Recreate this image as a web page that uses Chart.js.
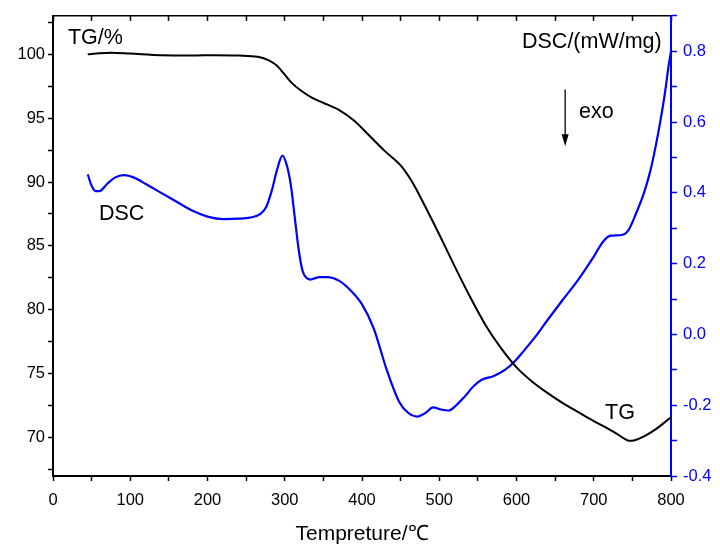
<!DOCTYPE html>
<html><head><meta charset="utf-8">
<script src="https://cdn.jsdelivr.net/npm/chart.js@4/dist/chart.umd.min.js"></script>
<style>html,body{margin:0;padding:0;background:#fff;} canvas{display:block;}</style>
</head><body>
<canvas id="c" width="720" height="547"></canvas>
<script>
// ---- data ----
const tgTemp  = [45, 60, 75, 100, 140, 180, 210, 240, 265, 280, 290, 300, 310, 320, 335, 350, 370, 390, 410, 430, 450, 465, 480, 500, 520, 540, 560, 580, 600, 620, 640, 660, 680, 700, 720, 730, 740, 746, 752, 765, 780, 800];
const tgValue = [100.0, 100.08, 100.12, 100.05, 99.92, 99.9, 99.93, 99.9, 99.8, 99.5, 99.1, 98.4, 97.7, 97.2, 96.6, 96.2, 95.65, 94.8, 93.6, 92.4, 91.3, 90.0, 88.3, 85.9, 83.4, 81.0, 78.8, 77.0, 75.5, 74.4, 73.5, 72.7, 72.0, 71.3, 70.65, 70.3, 69.9, 69.75, 69.78, 70.1, 70.65, 71.6];

const dscTemp  = [45, 50, 55, 60, 70, 80, 92, 105, 120, 140, 160, 180, 200, 220, 240, 255, 268, 276, 283, 290, 297, 303, 308, 313, 318, 323, 328, 333, 345, 355, 370, 385, 400, 415, 432, 448, 460, 472, 482, 492, 502, 512, 522, 532, 545, 555, 570, 585, 596, 610, 625, 640, 660, 680, 700, 712, 722, 736, 745, 755, 765, 773, 780, 786, 792, 797, 800];
const dscValue = [0.452, 0.42, 0.405, 0.405, 0.425, 0.443, 0.450, 0.443, 0.425, 0.400, 0.375, 0.350, 0.333, 0.326, 0.327, 0.330, 0.340, 0.36, 0.405, 0.465, 0.505, 0.475, 0.42, 0.33, 0.24, 0.18, 0.16, 0.155, 0.162, 0.162, 0.152, 0.125, 0.085, 0.018, -0.10, -0.19, -0.222, -0.232, -0.222, -0.206, -0.212, -0.215, -0.200, -0.178, -0.145, -0.128, -0.118, -0.100, -0.08, -0.045, -0.005, 0.040, 0.098, 0.155, 0.22, 0.262, 0.279, 0.281, 0.295, 0.343, 0.40, 0.46, 0.53, 0.60, 0.68, 0.76, 0.80];

const xTitle = 'Tempreture/\u2103';
const textNotes = [
  {text: 'TG/%',        x: 19.4,  v: 101.25, axis: 'y',  align: 'left'},
  {text: 'DSC',         x: 59.5,  v: 0.339,  axis: 'y1', align: 'left'},
  {text: 'DSC/(mW/mg)', x: 788,   v: 0.827,  axis: 'y1', align: 'right'},
  {text: 'exo',         x: 681,   v: 0.627,  axis: 'y1', align: 'left'},
  {text: 'TG',          x: 714.6, v: 71.92,  axis: 'y',  align: 'left'}
];
const exoArrow = {x: 663, from: 0.692, to: 0.532};

// ---- chart ----
const FONT = '"Liberation Sans", Arial, Helvetica, sans-serif';
const tickFont = {family: FONT, size: 16.5};

const notesPlugin = {
  id: 'notes',
  afterDatasetsDraw(chart) {
    const ctx = chart.ctx;
    const sx = chart.scales.x;
    ctx.save();
    ctx.font = '21.5px ' + FONT;
    ctx.fillStyle = '#000';
    ctx.textBaseline = 'middle';
    textNotes.forEach(n => {
      ctx.textAlign = n.align;
      ctx.fillText(n.text, sx.getPixelForValue(n.x), chart.scales[n.axis].getPixelForValue(n.v));
    });
    // exo arrow
    const ax = sx.getPixelForValue(exoArrow.x);
    const y0 = chart.scales.y1.getPixelForValue(exoArrow.from);
    const y1 = chart.scales.y1.getPixelForValue(exoArrow.to);
    ctx.strokeStyle = '#000';
    ctx.lineWidth = 1.3;
    ctx.beginPath();
    ctx.moveTo(ax, y0);
    ctx.lineTo(ax, y1 - 10);
    ctx.stroke();
    ctx.beginPath();
    ctx.moveTo(ax - 3.5, y1 - 12);
    ctx.lineTo(ax + 3.5, y1 - 12);
    ctx.lineTo(ax, y1);
    ctx.closePath();
    ctx.fill();
    ctx.restore();
  }
};

new Chart(document.getElementById('c'), {
  type: 'line',
  data: {
    datasets: [
      {
        label: 'TG',
        data: tgTemp.map((t, i) => ({x: t, y: tgValue[i]})),
        borderColor: '#000000',
        borderWidth: 2,
        pointRadius: 0,
        cubicInterpolationMode: 'monotone',
        xAxisID: 'x', yAxisID: 'y'
      },
      {
        label: 'DSC',
        data: dscTemp.map((t, i) => ({x: t, y: dscValue[i]})),
        borderColor: '#0000ff',
        borderWidth: 2.2,
        pointRadius: 0,
        cubicInterpolationMode: 'monotone',
        xAxisID: 'x', yAxisID: 'y1'
      }
    ]
  },
  options: {
    responsive: false,
    animation: false,
    layout: {padding: 0},
    plugins: {legend: {display: false}, tooltip: {enabled: false}},
    scales: {
      x: {
        type: 'linear', position: 'bottom', min: 0, max: 800,
        ticks: {stepSize: 50, autoSkip: false, maxRotation: 0, color: '#000', font: tickFont, padding: 10,
                callback: v => (Math.round(v) % 100 === 0 ? String(Math.round(v)) : '')},
        grid: {drawOnChartArea: false, tickLength: 5, tickColor: '#000', tickWidth: 1.5},
        border: {color: '#000', width: 2},
        title: {display: true, text: xTitle, color: '#000', font: {family: FONT, size: 21}, padding: {top: 0, bottom: 0}},
        afterFit: s => { s.height = 71; }
      },
      xTop: {
        type: 'linear', position: 'top', min: 0, max: 800,
        ticks: {stepSize: 50, autoSkip: false, display: false},
        grid: {drawOnChartArea: false, tickLength: -5, tickColor: '#000', tickWidth: 1.5},
        border: {color: '#000', width: 1.5},
        afterFit: s => { s.height = 14; }
      },
      y: {
        position: 'left', min: 67, max: 103,
        ticks: {stepSize: 2.5, includeBounds: false, autoSkip: false, color: '#000', font: tickFont, padding: 3,
                callback: v => (Math.abs(v % 5) < 1e-9 ? String(v) : '')},
        grid: {drawOnChartArea: false, tickLength: 5, tickColor: '#000', tickWidth: 1.5},
        border: {color: '#000', width: 2},
        afterFit: s => { s.width = 53; }
      },
      y1: {
        position: 'right', min: -0.4, max: 0.9,
        ticks: {stepSize: 0.1, includeBounds: false, autoSkip: false, color: '#0000ff', font: tickFont, padding: 6,
                callback: v => { const k = Math.round(v * 10); return k % 2 === 0 ? (k / 10).toFixed(1) : ''; }},
        grid: {drawOnChartArea: false, tickLength: 6, tickColor: '#0000ff', tickWidth: 1.5},
        border: {color: '#0000ff', width: 2},
        afterFit: s => { s.width = 49; }
      }
    }
  },
  plugins: [notesPlugin]
});
</script>
</body></html>
